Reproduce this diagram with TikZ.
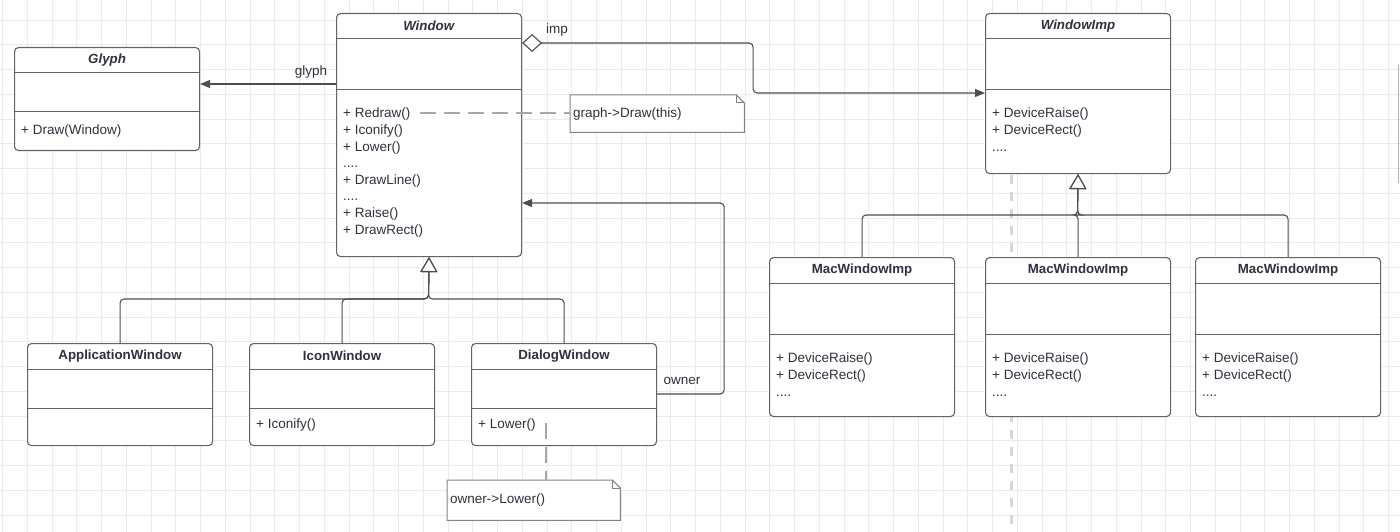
\documentclass[tikz,border=0pt]{standalone}
\usepackage{fontspec}
\setmainfont{Liberation Sans}
\usetikzlibrary{arrows.meta}

\definecolor{ink}{RGB}{45,50,60}
\definecolor{edge}{RGB}{100,100,100}
\definecolor{wire}{RGB}{75,78,84}

% class box: name, left, top, height, attribute height, method offset, title, methods
\newcommand{\umlclass}[8]{%
  \node[cls, minimum height=#4pt] (#1) at (#2,#3) {};
  \draw[divider] ([yshift=-26pt]#1.north west) -- ([yshift=-26pt]#1.north east);
  \draw[divider] ([yshift=-26pt-#5pt]#1.north west) -- ([yshift=-26pt-#5pt]#1.north east);
  \node[ttl] (#1-t) at ([yshift=-13pt]#1.north) {#7};
  \node[ops] (#1-m) at ([xshift=7pt,yshift=-26pt-#5pt-#6pt]#1.north west) {#8};
}
% note: name, left, top, width, height, text
\newcommand{\umlnote}[6]{%
  \node[notebg, minimum width=#4pt, minimum height=#5pt] (#1) at (#2,#3) {};
  \draw[notedge] (#1.north west) -- ([xshift=-8pt]#1.north east) -- ([yshift=-8pt]#1.north east)
    -- (#1.south east) -- (#1.south west) -- cycle;
  \draw[notedge] ([xshift=-8pt]#1.north east) |- ([yshift=-8pt]#1.north east);
  \node[ops, anchor=west] (#1-t) at ([xshift=3pt]#1.west) {#6};
}

\begin{document}
\begin{tikzpicture}[x=1pt, y=-1pt,
  cls/.style={draw=edge, fill=white, line width=1.1pt, rounded corners=4pt, minimum width=185pt, anchor=north west, inner sep=0pt},
  divider/.style={draw=edge, line width=1pt},
  ttl/.style={font=\fontsize{13.3}{16}\selectfont\bfseries, text=ink},
  ops/.style={anchor=north west, align=left, inner sep=0pt, font=\fontsize{13.5}{16.6}\selectfont, text=ink},
  lbl/.style={font=\fontsize{13.5}{16.6}\selectfont, text=ink},
  notebg/.style={fill=white, anchor=north west, inner sep=0pt},
  notedge/.style={draw=edge!80, line width=1pt},
  gridline/.style={draw=black!8, line width=0.9pt},
  assoc/.style={draw=wire, line width=1.1pt, rounded corners=4pt, -{Triangle[length=10pt,width=8pt]}},
  inherit/.style={draw=wire, line width=1.1pt, rounded corners=4pt, -{Triangle[open,length=15pt,width=17pt,fill=white]}},
  link/.style={draw=black!35, line width=1.1pt, dash pattern=on 16pt off 8pt}
]
\fill[white] (0,0) rectangle (1400,532);
\useasboundingbox (0,0) rectangle (1400,532);
% grid
\foreach \i in {0,...,56} \draw[gridline] (2.5+24.75*\i,0) -- ++(0,532);
\foreach \i in {1,...,21} \draw[gridline] (0,-4.75+24.75*\i) -- ++(1400,0);
\draw[draw=black!16, line width=3pt, dash pattern=on 9pt off 8pt] (1011,175) -- (1011,532);
\draw[draw=black!30, line width=1.5pt] (1398.5,65) -- (1398.5,183);

% classes
\umlclass{glyph}{14}{47}{103}{39}{13}{\textit{Glyph}}{+ Draw(Window)}
\umlclass{win}{336}{13}{243}{51}{18}{\textit{Window}}{+ Redraw()\\+ Iconify()\\+ Lower()\\....\\+ DrawLine()\\....\\+ Raise()\\+ DrawRect()}
\umlclass{imp}{985}{13}{160}{51}{18}{\textit{WindowImp}}{+ DeviceRaise()\\+ DeviceRect()\\....}
\umlclass{app}{27}{343}{102}{39}{11}{ApplicationWindow}{}
\umlclass{icon}{249}{343}{102}{39}{11}{IconWindow}{+ Iconify()}
\umlclass{dlg}{471}{343}{102}{39}{11}{DialogWindow}{+ Lower()}
\umlclass{mac1}{769}{257}{159}{51}{19}{MacWindowImp}{+ DeviceRaise()\\+ DeviceRect()\\....}
\umlclass{mac2}{985}{257}{159}{51}{19}{MacWindowImp}{+ DeviceRaise()\\+ DeviceRect()\\....}
\umlclass{mac3}{1195}{257}{159}{51}{19}{MacWindowImp}{+ DeviceRaise()\\+ DeviceRect()\\....}

% notes
\umlnote{n1}{570}{95}{174}{37}{graph->Draw(this)}
\umlnote{n2}{447}{480}{173}{40}{owner->Lower()}
\coordinate (rd) at (420,113);
\coordinate (lw) at (546,423);
\draw[link] (rd) -- (rd -| n1.west);
\draw[link] (lw) -- (lw |- n2.north);

% associations
\draw[assoc] ([yshift=-71pt]win.north west) -- ([yshift=-37pt]glyph.north east);
\node[lbl] (glyphlbl) at (311,72) {glyph};
\draw[assoc, {Diamond[open,length=20pt,width=18pt]}-{Triangle[length=10pt,width=8pt]}]
  ([yshift=-30pt]win.north east) -- ++(231,0) |- ([yshift=-80pt]imp.north west);
\node[lbl] (implbl) at (557,30) {imp};
\draw[assoc] ([yshift=-51pt]dlg.north east) -- ++(67,0) |- ([yshift=-190pt]win.north east);
\node[lbl] (ownerlbl) at (682,381) {owner};

% inheritance
\foreach \c in {app,icon,dlg} \draw[inherit] (\c.north) |- (428.5,299) -- (win.south);
\foreach \c in {mac1,mac2,mac3} \draw[inherit] (\c.north) |- (1077.5,215) -- (imp.south);
\end{tikzpicture}
\end{document}
